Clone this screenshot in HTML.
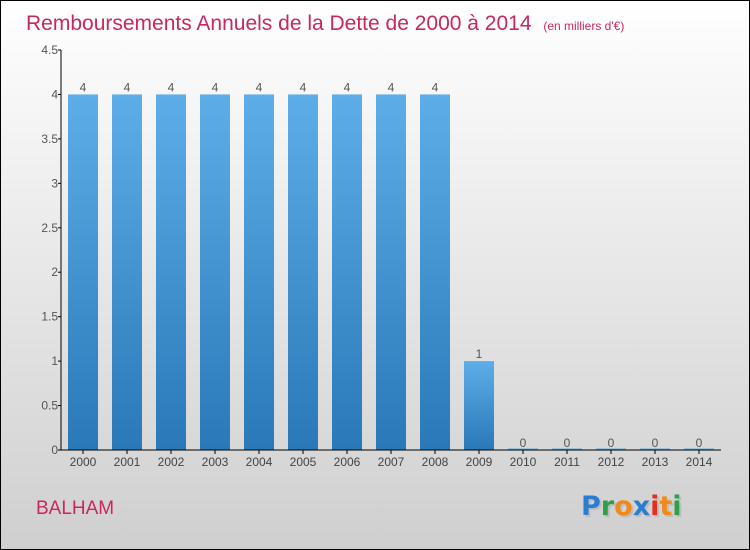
<!DOCTYPE html>
<html><head><meta charset="utf-8"><style>
body{margin:0;width:750px;height:550px;overflow:hidden;font-family:"Liberation Sans",sans-serif}
svg{display:block}
</style></head><body>
<svg id="c" width="750" height="550">
<defs>
<linearGradient id="bg" x1="0" y1="0" x2="0" y2="1"><stop offset="0" stop-color="#ffffff"/><stop offset="1" stop-color="#cfcfcf"/></linearGradient>
<linearGradient id="bar" x1="0" y1="0" x2="0" y2="1"><stop offset="0" stop-color="#5daee8"/><stop offset="1" stop-color="#2a78b8"/></linearGradient>
</defs>
<rect x="0.5" y="0.5" width="749" height="549" fill="url(#bg)" stroke="#000"/>
<text x="26" y="30" font-size="21" fill="#c8285a">Remboursements Annuels de la Dette de 2000 à 2014 <tspan font-size="12" dx="6">(en milliers d'€)</tspan></text>
<g id="plot"></g>
<text x="36" y="514" font-size="19" fill="#c8285a">BALHAM</text>
<g font-size="27" font-weight="bold" font-family="'DejaVu Sans',sans-serif">
<text x="583" y="517" fill="#aaa" opacity="0.5">Proxiti</text>
<text x="581" y="515"><tspan fill="#2a7ed0">P</tspan><tspan fill="#2fa04a">r</tspan><tspan fill="#f08a1c">o</tspan><tspan fill="#2a7ed0">x</tspan><tspan fill="#e03020">i</tspan><tspan fill="#f08a1c">t</tspan><tspan fill="#2fa04a">i</tspan></text>
</g>
</svg>
<script>
const categories=["2000","2001","2002","2003","2004","2005","2006","2007","2008","2009","2010","2011","2012","2013","2014"];
const values=[4,4,4,4,4,4,4,4,4,1,0,0,0,0,0];
const yTicks=[0,0.5,1,1.5,2,2.5,3,3.5,4,4.5];
const yTickLabels=["0","0.5","1","1.5","2","2.5","3","3.5","4","4.5"];
const NS="http://www.w3.org/2000/svg";
const g=document.getElementById('plot');
const L=61,R=721,T=50,B=450,maxV=4.5;
const y=v=>B-(v/maxV)*(B-T);
const step=(R-L)/categories.length;
const x=i=>L+step*i+step/2;
function mk(t,a,txt){const e=document.createElementNS(NS,t);for(const k in a)e.setAttribute(k,a[k]);if(txt!==undefined)e.textContent=txt;g.appendChild(e);return e;}
values.forEach((v,i)=>{
  const h=Math.max(B-y(v),1.5);
  const r=mk('rect',{x:x(i)-15,y:B-h,width:30,height:h,fill:v>0?'url(#bar)':'#5daee8'});
  
  
  const t=mk('text',{x:x(i),y:y(v)-3,'font-size':12,fill:'#555','text-anchor':'middle'},String(v));
  
  
  const c=mk('text',{x:x(i),y:B+16,'font-size':12,fill:'#444','text-anchor':'middle'},categories[i]);
  
  
  const tk=mk('line',{x1:x(i),x2:x(i),y1:B,y2:B+4,stroke:'#000'});
  
  
});
yTicks.forEach((v,i)=>{
  const t=mk('text',{x:L-3,y:y(v)+4,'font-size':12,fill:'#555','text-anchor':'end'},yTickLabels[i]);
  
  
  const l=mk('line',{x1:L-3,x2:L,y1:y(v),y2:y(v),stroke:'#000'});
  
  
});
const ya=mk('line',{x1:L,x2:L,y1:T,y2:B,stroke:'#000'});


const xa=mk('line',{x1:L,x2:R,y1:B,y2:B,stroke:'#000'});


</script>
</body></html>
